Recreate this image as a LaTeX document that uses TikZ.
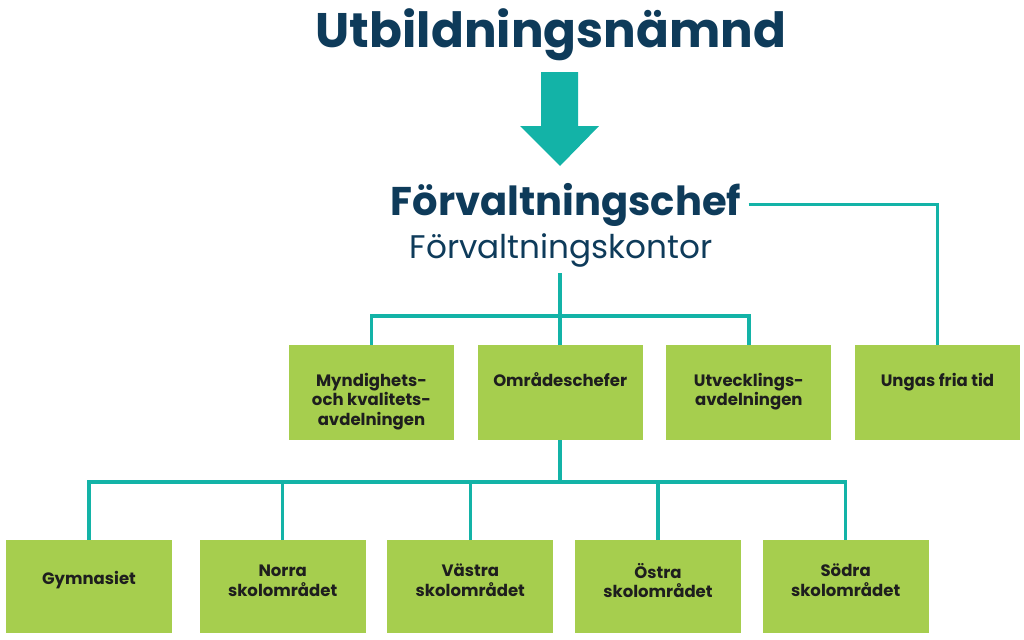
\documentclass[tikz,border=0pt]{standalone}
\usepackage{fontspec}
\setmainfont{Poppins}
\usepackage{xcolor}
\usepackage{tikz}
\usetikzlibrary{positioning}

\definecolor{navy}{RGB}{14,59,90}
\definecolor{teal2}{RGB}{19,179,167}
\definecolor{leaf}{RGB}{166,206,78}
\definecolor{ink}{RGB}{30,30,30}

\begin{document}
\begin{tikzpicture}[
  x=0.02cm, y=-0.02cm,
  box/.style={rectangle, fill=leaf, minimum width=3.3cm, minimum height=1.9cm, inner sep=0pt},
  lowbox/.style={box, minimum width=3.32cm, minimum height=1.86cm},
  lab/.style={align=center, font=\bfseries\fontsize{9.4}{11.2}\selectfont, text=ink, inner sep=0pt},
  toplab/.style={lab, anchor=north, yshift=-0.56cm},
  midlab/.style={lab, anchor=center, yshift=0.12cm},
  conn/.style={draw=teal2, line width=2pt}
]
\useasboundingbox (0,0) rectangle (1024,639);

% heading
\node[font=\bfseries\fontsize{27.6}{30}\selectfont, text=navy, anchor=base] (title) at (551,47) {Utbildningsnämnd};
\fill[teal2] (541,72) -- (578,72) -- (578,126) -- (599,126) -- (560,166) -- (520,126) -- (541,126) -- cycle;
\node[font=\bfseries\fontsize{22.8}{26}\selectfont, text=navy, anchor=base, inner xsep=4pt] (chef) at (566,215) {Förvaltningschef};
\node[font=\fontsize{18.6}{20}\selectfont, text=navy, anchor=base] (kontor) at (561,258) {Förvaltningskontor};

% first row
\node[box, label={[toplab]north:{Myndighets-\\och kvalitets-\\avdelningen}}] (myn) at (371.5,392.5) {};
\node[box, right=0.46cm of myn, label={[toplab]north:{Områdeschefer}}] (omr) {};
\node[box, right=0.46cm of omr, label={[toplab]north:{Utvecklings-\\avdelningen}}] (utv) {};
\node[box, right=0.46cm of utv, label={[toplab]north:{Ungas fria tid}}] (ungas) {};

% second row
\node[lowbox, label={[midlab]center:{Gymnasiet}}] (gym) at (89,586.5) {};
\node[lowbox, right=0.54cm of gym, label={[midlab]center:{Norra\\skolområdet}}] (norra) {};
\node[lowbox, right=0.42cm of norra, label={[midlab]center:{Västra\\skolområdet}}] (vastra) {};
\node[lowbox, right=0.42cm of vastra, label={[midlab]center:{Östra\\skolområdet}}] (ostra) {};
\node[lowbox, right=0.42cm of ostra, label={[midlab]center:{Södra\\skolområdet}}] (sodra) {};

\coordinate (bar1) at (0,316);
\coordinate (bar2) at (0,482);

% lines
\draw[conn] (chef.east) -| (ungas.north);
\draw[conn] (kontor.south -| omr.north) -- (omr.north);
\draw[conn] (myn.north) |- (bar1 -| utv.north) -- (utv.north);
\draw[conn] (omr.south) -- (omr.south |- bar2);
\draw[conn] (gym.north) |- (bar2 -| sodra.north) -- (sodra.north);
\foreach \n in {norra,vastra,ostra}
  \draw[conn] (\n.north) -- (\n.north |- bar2);
\end{tikzpicture}
\end{document}
